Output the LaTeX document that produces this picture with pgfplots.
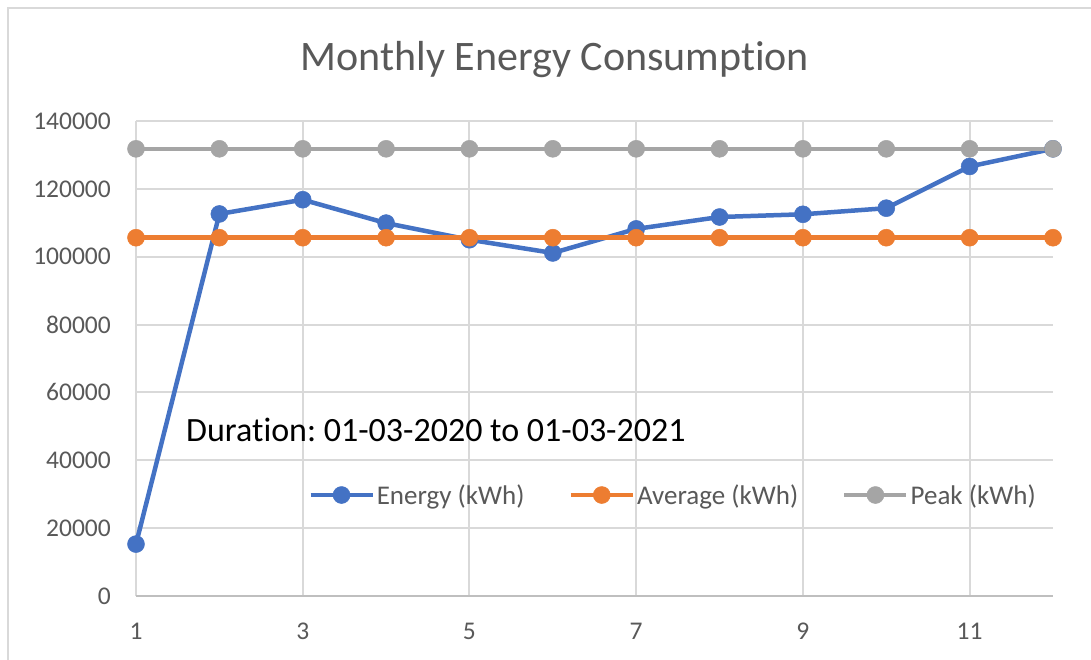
\documentclass[border=0pt]{standalone}
\usepackage{fontspec}
\setmainfont{Carlito}[Ligatures=NoCommon]
\usepackage{pgfplots}
\pgfplotsset{compat=1.18}
\definecolor{eblue}{HTML}{4472C4}
\definecolor{eorange}{HTML}{ED7D31}
\definecolor{egray}{HTML}{A5A5A5}
\definecolor{gridc}{HTML}{D9D9D9}
\definecolor{axc}{HTML}{BFBFBF}
\definecolor{txt}{HTML}{595959}
\frenchspacing
\begin{document}
\begin{tikzpicture}[x=1pt,y=1pt]
\useasboundingbox (0,0) rectangle (1091,660);
\fill[white] (0,0) rectangle (1091,660);
\draw[gridc, line width=2.5pt] (8,0) -- (8,652) -- (1091,652);
\node[font=\fontsize{42}{50}\selectfont, text=txt, inner sep=0pt] at (555,600) {Monthly Energy Consumption};
\begin{axis}[
  at={(136pt,64pt)}, anchor=south west,
  scale only axis, width=917pt, height=475pt,
  xmin=1, xmax=12, ymin=0, ymax=140000,
  xtick={1,3,5,7,9,11},
  xticklabels={1,3,5,7,9,11},
  ytick={0,20000,40000,60000,80000,100000,120000,140000},
  yticklabels={0,20000,40000,60000,80000,100000,120000,140000},
  scaled ticks=false,
  major tick length=0pt,
  tick style={draw=none},
  grid=major,
  major grid style={color=gridc, line width=2pt},
  axis x line=bottom, axis y line=left,
  x axis line style={-, color=axc, line width=2.5pt},
  y axis line style={draw=none},
  xticklabel style={font=\fontsize{25.5}{30}\selectfont, text=txt, inner sep=0pt, yshift=-27pt},
  yticklabel style={font=\fontsize{25.5}{30}\selectfont, text=txt, inner sep=0pt, xshift=-25pt},
  clip=false,
  legend columns=3,
  legend image code/.code={\draw[mark repeat=2,mark phase=2,#1] plot coordinates {(0pt,0pt) (31pt,0pt) (62pt,0pt)};},
  legend style={at={(0.5856,0.2126)}, anchor=center, draw=none, fill=none,
    font=\fontsize{27}{30}\selectfont, text=txt,
    nodes={inner sep=2pt},
    /tikz/every even column/.append style={column sep=42pt}},
]
\addplot[color=eblue, line width=4.5pt, line join=round, mark=*, mark size=8.5pt, mark options={line width=0.5pt, fill=eblue}] coordinates {
(1,15300) (2,112600) (3,116800) (4,109900) (5,105000) (6,101100)
(7,108200) (8,111700) (9,112500) (10,114300) (11,126600) (12,131800)};
\addlegendentry{Energy (kWh)}
\addplot[color=eorange, line width=4.5pt, mark=*, mark size=8.5pt, mark options={line width=0.5pt, fill=eorange}] coordinates {
(1,105600) (2,105600) (3,105600) (4,105600) (5,105600) (6,105600)
(7,105600) (8,105600) (9,105600) (10,105600) (11,105600) (12,105600)};
\addlegendentry{Average (kWh)}
\addplot[color=egray, line width=4.5pt, mark=*, mark size=8.5pt, mark options={line width=0.5pt, fill=egray}] coordinates {
(1,131800) (2,131800) (3,131800) (4,131800) (5,131800) (6,131800)
(7,131800) (8,131800) (9,131800) (10,131800) (11,131800) (12,131800)};
\addlegendentry{Peak (kWh)}
\end{axis}
\node[font=\fontsize{34}{40}\selectfont, anchor=base west, inner sep=0pt] at (186,218) {Duration: 01-03-2020 to 01-03-2021};
\end{tikzpicture}
\end{document}
